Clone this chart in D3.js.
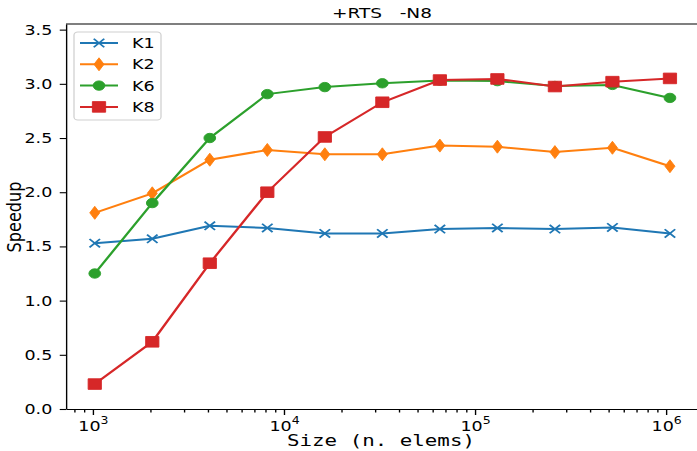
<!DOCTYPE html>
<html>
<head>
<meta charset="utf-8">
<script src="https://cdn.jsdelivr.net/npm/d3@7"></script>
<style>
  body { margin: 0; background: #fff; }
  text { font-family: "DejaVu Sans", sans-serif; fill: #000; }
</style>
</head>
<body>
<svg id="chart" width="697" height="451"></svg>
<script>
// data
let sizes = [1024, 2048, 4096, 8192, 16384, 32768, 65536, 131072, 262144, 524288, 1048576]
let seriesNames = ["K1", "K2", "K6", "K8"]
let k1 = [1.53, 1.57, 1.69, 1.67, 1.62, 1.62, 1.66, 1.67, 1.66, 1.675, 1.62]
let k2 = [1.81, 1.99, 2.30, 2.39, 2.35, 2.35, 2.43, 2.42, 2.37, 2.41, 2.24]
let k6 = [1.25, 1.90, 2.50, 2.905, 2.97, 3.005, 3.03, 3.025, 2.98, 2.99, 2.87]
let k8 = [0.23, 0.62, 1.345, 2.00, 2.51, 2.83, 3.035, 3.045, 2.975, 3.02, 3.05]
let yTicks = [0.0, 0.5, 1.0, 1.5, 2.0, 2.5, 3.0, 3.5]
let xTicks = [1e3, 1e4, 1e5, 1e6]
let colors = ["#1f77b4", "#ff7f0e", "#2ca02c", "#d62728"]
let markers = ["x", "d", "o", "s"]
let titleText = "+RTS   -N8"
let xLabel = "Size (n. elems)"
let yLabel = "Speedup"

let allSeries = [k1, k2, k6, k8]

// the picture is stretched sideways, so draw in a squeezed space and scale back
let sx = 1.25
let plotLeft = 66 / sx, plotRight = 698.7 / sx, plotTop = 24, plotBottom = 409

let lo = Math.log10(sizes[0]), hi = Math.log10(sizes[sizes.length - 1])
let pad = (hi - lo) * 0.05
let x = d3.scaleLog().domain([10 ** (lo - pad), 10 ** (hi + pad)]).range([plotLeft, plotRight])
let y = d3.scaleLinear().domain([0, 3.552]).range([plotBottom, plotTop])

const svg = d3.select("#chart")
const g = svg.append("g").attr("transform", `scale(${sx},1)`)

// marker shapes
const markerPath = (type) => {
  if (type == "o") return d3.symbol(d3.symbolCircle, Math.PI * 4.7 * 4.7)()
  if (type == "s") return "M-5.3,-5.3H5.3V5.3H-5.3Z"
  if (type == "d") return "M0,-6.5L4,0L0,6.5L-4,0Z"
  return "M-4.2,-4.2L4.2,4.2M-4.2,4.2L4.2,-4.2"
}

const drawMarker = (sel, type, color) => {
  sel.append("path")
    .attr("d", markerPath(type))
    .attr("fill", type == "x" ? "none" : color)
    .attr("stroke", color)
    .attr("stroke-width", type == "x" ? 1.6 : 0.8)
}

// axes
let yAxis = g.append("g")
  .attr("transform", `translate(${plotLeft},0)`)
  .call(d3.axisLeft(y).tickValues(yTicks).tickFormat(d3.format(".1f")).tickSize(5).tickSizeOuter(0).tickPadding(6))
yAxis.selectAll("text").style("font-size", "14px")

let xAxis = g.append("g")
  .attr("transform", `translate(0,${plotBottom})`)
  .call(d3.axisBottom(x).tickValues(xTicks).tickFormat("").tickSize(6).tickSizeOuter(0))

let minor = x.ticks().filter(v => Math.abs(Math.log10(v) % 1) > 1e-6)
g.append("g")
  .attr("transform", `translate(0,${plotBottom})`)
  .call(d3.axisBottom(x).tickValues(minor).tickFormat("").tickSize(3.5).tickSizeOuter(0))
  .select(".domain").remove()

xAxis.selectAll(".tick").append("text")
  .attr("y", 22.5)
  .attr("text-anchor", "middle")
  .style("font-size", "14px")
  .each(function(d) {
    let t = d3.select(this)
    t.append("tspan").text("10")
    t.append("tspan").attr("dy", -7).style("font-size", "10px").text(Math.round(Math.log10(d)))
  })

g.selectAll(".domain, .tick line").attr("stroke", "#000").attr("stroke-width", 1.1)

// top and right frame
g.append("line").attr("x1", plotLeft).attr("x2", plotRight).attr("y1", plotTop).attr("y2", plotTop)
  .attr("stroke", "#000").attr("stroke-width", 1.1)
g.append("line").attr("x1", plotRight).attr("x2", plotRight).attr("y1", plotTop).attr("y2", plotBottom)
  .attr("stroke", "#000").attr("stroke-width", 1.1)

// series
const line = d3.line().x((d, i) => x(sizes[i])).y(d => y(d))

allSeries.forEach((vals, s) => {
  g.append("path")
    .attr("d", line(vals))
    .attr("fill", "none")
    .attr("stroke", colors[s])
    .attr("stroke-width", 2)
  vals.forEach((v, i) => {
    let m = g.append("g").attr("transform", `translate(${x(sizes[i])},${y(v)})`)
    drawMarker(m, markers[s], colors[s])
  })
})

// legend
let legend = g.append("g")
legend.append("rect")
  .attr("x", 74 / sx).attr("y", 32)
  .attr("width", (161 - 74) / sx).attr("height", 88)
  .attr("rx", 3)
  .attr("fill", "#fff").attr("fill-opacity", 0.8)
  .attr("stroke", "#d0d0d0").attr("stroke-width", 1)

seriesNames.forEach((name, s) => {
  let ly = 43 + s * 21.3
  legend.append("line")
    .attr("x1", 80 / sx).attr("x2", 118 / sx).attr("y1", ly).attr("y2", ly)
    .attr("stroke", colors[s]).attr("stroke-width", 2)
  let m = legend.append("g").attr("transform", `translate(${99 / sx},${ly})`)
  drawMarker(m, markers[s], colors[s])
  legend.append("text")
    .attr("x", 132 / sx).attr("y", ly + 5)
    .style("font-size", "14px")
    .text(name)
})

// title and labels
g.append("text")
  .attr("x", 382 / sx).attr("y", 18.5)
  .attr("text-anchor", "middle")
  .style("font-size", "14px")
  .style("white-space", "pre")
  .attr("textLength", 100 / sx).attr("lengthAdjust", "spacingAndGlyphs")
  .text(titleText)

g.append("text")
  .attr("x", 381 / sx).attr("y", 446)
  .attr("text-anchor", "middle")
  .style("font-family", "'DejaVu Sans Mono', monospace")
  .style("font-size", "15px")
  .attr("textLength", 188 / sx).attr("lengthAdjust", "spacingAndGlyphs")
  .text(xLabel)

g.append("text")
  .attr("transform", `translate(${20.7 / sx},217) rotate(-90)`)
  .attr("text-anchor", "middle")
  .style("font-size", "16px")
  .attr("textLength", 71).attr("lengthAdjust", "spacingAndGlyphs")
  .text(yLabel)
</script>
</body>
</html>
